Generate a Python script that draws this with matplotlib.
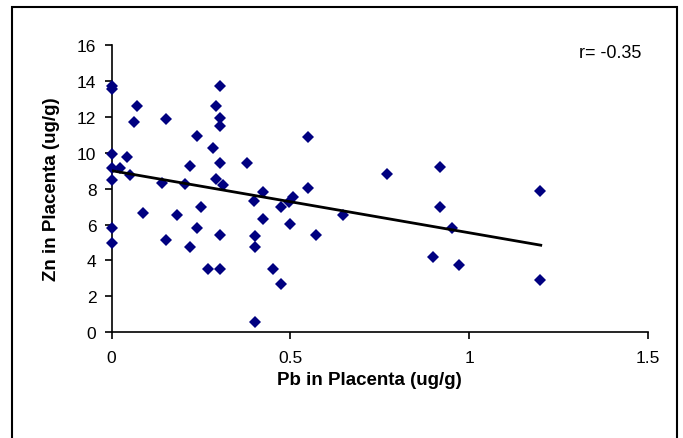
import numpy as np
import matplotlib
matplotlib.use('Agg')
import matplotlib.pyplot as plt
from matplotlib.patches import Rectangle

plt.rcParams['font.family'] = ['Liberation Sans', 'DejaVu Sans']

# Pb and Zn in placenta (ug/g)
pb = [0, 0, 0, 0, 0, 0, 0, 0.023, 0.044, 0.051, 0.07, 0.063, 0.152, 0.238, 0.283,
      0.303, 0.292, 0.303, 0.303, 0.219, 0.303, 0.292, 0.312, 0.14, 0.205, 0.088,
      0.183, 0.251, 0.152, 0.238, 0.303, 0.219, 0.27, 0.303, 0.55, 0.379, 0.55,
      0.422, 0.399, 0.508, 0.497, 0.473, 0.648, 0.422, 0.499, 0.571, 0.401, 0.401,
      0.452, 0.473, 0.401, 0.769, 0.918, 1.198, 0.918, 0.951, 0.9, 0.971, 1.198]
zn = [13.74, 13.55, 9.93, 9.15, 8.5, 5.79, 4.97, 9.15, 9.74, 8.76, 12.62, 11.69, 11.88,
      10.95, 10.25, 13.73, 12.62, 11.92, 11.47, 9.28, 9.41, 8.54, 8.2, 8.3, 8.26, 6.63,
      6.53, 6.96, 5.16, 5.79, 5.42, 4.77, 3.52, 3.52, 10.86, 9.41, 8.02, 7.8, 7.33,
      7.52, 7.24, 6.96, 6.53, 6.31, 6.03, 5.42, 5.38, 4.73, 3.52, 2.69, 0.56, 8.81,
      9.22, 7.88, 6.96, 5.79, 4.18, 3.75, 2.91]

# trend line as drawn in the chart (start / end)
trend_x = [0, 1.2]
trend_y = [9.0, 4.85]
r_text = 'r= -0.35'

fig = plt.figure(figsize=(6.83, 4.39), dpi=100)
ax = fig.add_axes([0.1635, 0.2408, 0.7853, 0.6544])

ax.plot(pb, zn, linestyle='none', marker='D', markersize=6.6,
        color='#000080', markeredgewidth=0, clip_on=False, zorder=3)
ax.plot(trend_x, trend_y, color='black', linewidth=2, zorder=4)

ax.set_xlim(0, 1.5)
ax.set_ylim(0, 16)
ax.set_xticks([0, 0.5, 1, 1.5])
ax.set_xticklabels(['0', '0.5', '1', '1.5'])
ax.set_yticks(range(0, 17, 2))

for s in ['top', 'right']:
    ax.spines[s].set_visible(False)
for s in ['left', 'bottom']:
    ax.spines[s].set_linewidth(1.2)
ax.tick_params(direction='out', length=5, width=1.2, labelsize=12.5)
ax.tick_params(axis='y', pad=6)
ax.tick_params(axis='x', pad=8)

ax.set_xlabel('Pb in Placenta (ug/g)', fontsize=13.5, fontweight='bold', va='center')
ax.set_ylabel('Zn in Placenta (ug/g)', fontsize=13.5, fontweight='bold', va='center')
ax.xaxis.set_label_coords(0.48, -0.163)
ax.yaxis.set_label_coords(-0.112, 0.5)

fig.text(0.848, 0.879, r_text, fontsize=13, va='center')

# outer chart frame
fig.add_artist(Rectangle((0.0176, -0.05), 0.9736, 1.0318, transform=fig.transFigure,
                         fill=False, edgecolor='black', linewidth=1.5, clip_on=False))

fig.savefig('out.png', dpi=100)
